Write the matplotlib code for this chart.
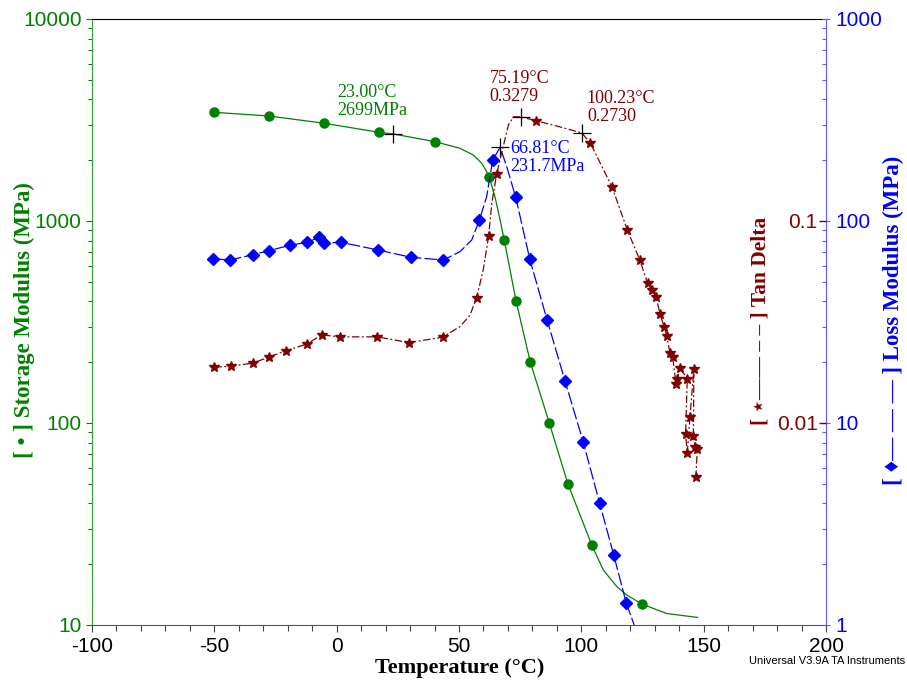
import matplotlib

matplotlib.use("Agg")
import matplotlib.pyplot as plt
from matplotlib.ticker import FixedLocator, LogLocator, NullFormatter, NullLocator

plt.rcParams["axes.unicode_minus"] = False

W, H = 907, 686

GREEN = "#008000"
MAROON = "#800000"
BLUE = "#0000ff"

# storage modulus (MPa): curve and symbol points
storage_t = [-50.0, -27.8, -5.2, 17.3, 23.0, 40.2, 50.4, 55.8, 59.3, 61.3, 62.4, 64.7,
             66.8, 68.5, 73.3, 79.1, 86.9, 94.5, 104.2, 109.0, 114.5, 118.5, 124.7,
             134.9, 147.5]
storage_v = [3451, 3311, 3048, 2748, 2699, 2470, 2290, 2123, 1932, 1754, 1645, 1318,
             1012, 805, 403, 201, 100, 50, 25, 18.7, 15.5, 14.1, 12.7,
             11.4, 10.9]
storage_mark_t = [-50.0, -27.8, -5.2, 17.3, 40.2, 62.4, 68.5, 73.3, 79.1, 86.9, 94.5, 104.2, 124.7]
storage_mark_v = [3451, 3311, 3048, 2748, 2470, 1645, 805, 403, 201, 100, 50, 25, 12.7]

# loss modulus (MPa)
loss_t = [-50.4, -43.6, -34.3, -27.8, -19.1, -12.1, -7.1, -5.2, 1.6, 16.8, 30.5, 43.6,
          50.4, 55.2, 58.3, 61.3, 63.8, 66.8, 69.5, 73.2, 78.9, 86.0, 93.3, 100.8, 107.5,
          113.2, 118.4, 121.6, 122.4]
loss_v = [65.0, 64.1, 68.1, 71.3, 75.8, 78.5, 83.0, 77.6, 78.5, 71.9, 66.1, 64.1,
          70.5, 80.5, 100.8, 131.9, 200.4, 231.7, 185.8, 131.0, 64.9, 32.4, 16.2, 8.03, 4.0,
          2.23, 1.28, 1.0, 0.93]
loss_mark_t = [-50.4, -43.6, -34.3, -27.8, -19.1, -12.1, -7.1, -5.2, 1.6, 16.8, 30.5, 43.6,
               58.3, 63.8, 73.2, 78.9, 86.0, 93.3, 100.8, 107.5, 113.2, 118.4]
loss_mark_v = [65.0, 64.1, 68.1, 71.3, 75.8, 78.5, 83.0, 77.6, 78.5, 71.9, 66.1, 64.1,
               100.8, 200.4, 131.0, 64.9, 32.4, 16.2, 8.03, 4.0, 2.23, 1.28]

# tan delta
tan_t = [-50.0, -43.3, -34.1, -27.8, -20.7, -12.2, -6.1, 1.4, 16.4, 29.7, 43.3, 50.4,
         54.5, 57.2, 59.9, 62.1, 63.4, 65.4, 70.2, 72.3, 75.2, 81.3, 90.0, 100.2, 103.7,
         112.5, 118.8, 123.9, 127.1, 128.8, 130.5, 132.2, 133.8, 134.9, 136.2, 137.3,
         138.7, 140.3, 143.3, 142.6, 143.3, 144.4, 146.0, 145.8, 146.5, 147.4, 146.8]
tan_v = [0.0189, 0.0191, 0.0198, 0.0212, 0.0228, 0.0246, 0.0273, 0.0267, 0.0267, 0.0250,
         0.0266, 0.0300, 0.0342, 0.0417, 0.0572, 0.0843, 0.122, 0.171, 0.299, 0.328,
         0.3279, 0.314, 0.295, 0.2730, 0.2426, 0.148, 0.0902, 0.0641, 0.0492, 0.0455,
         0.0422, 0.0345, 0.0300, 0.0270, 0.0223, 0.0213, 0.0156, 0.0187, 0.0166, 0.0088,
         0.0071, 0.0107, 0.0185, 0.0086, 0.0076, 0.0074, 0.0054]
tan_mark_t = [-50.0, -43.3, -34.1, -27.8, -20.7, -12.2, -6.1, 1.4, 16.4, 29.7, 43.3,
              57.2, 62.1, 65.4, 81.3, 103.7, 112.5, 118.8, 123.9, 127.1, 128.8, 130.5,
              132.2, 133.8, 134.9, 136.2, 137.3, 138.7, 140.3, 139.0, 143.3, 142.6,
              143.3, 144.4, 146.0, 145.8, 146.5, 147.4, 146.8]
tan_mark_v = [0.0189, 0.0191, 0.0198, 0.0212, 0.0228, 0.0246, 0.0273, 0.0267, 0.0267,
              0.0250, 0.0266, 0.0417, 0.0843, 0.171, 0.314, 0.2426, 0.148, 0.0902, 0.0641,
              0.0492, 0.0455, 0.0422, 0.0345, 0.0300, 0.0270, 0.0223, 0.0213, 0.0156,
              0.0187, 0.0166, 0.0166, 0.0088, 0.0071, 0.0107, 0.0185, 0.0086, 0.0076,
              0.0074, 0.0054]

SERIF = ["Liberation Serif", "DejaVu Sans"]
SANS = ["Liberation Sans", "DejaVu Sans"]


def px(x, y):
    return x / W, 1 - y / H


fig = plt.figure(figsize=(W / 100, H / 100), dpi=100)
ax = fig.add_axes([92 / W, 1 - 625 / H, 734 / W, 606 / H])
ax2 = ax.twinx()
ax3 = ax.twinx()

# storage modulus, left axis
ax.plot(storage_t, storage_v, color=GREEN, lw=0.9)
ax.plot(storage_mark_t, storage_mark_v, ls="none", marker="o", ms=6.5, color=GREEN)
ax.set_xlim(-100, 200)
ax.set_yscale("log")
ax.set_ylim(10, 10000)

# loss modulus, right axis
ax2.plot(loss_t, loss_v, color=BLUE, lw=0.9, ls=(0, (10, 2.5)))
ax2.plot(loss_mark_t, loss_mark_v, ls="none", marker="D", ms=6.5, color=BLUE)
ax2.set_yscale("log")
ax2.set_ylim(1, 1000)

# tan delta, labels just left of the right spine
ax3.plot(tan_t, tan_v, color=MAROON, lw=0.9, ls=(0, (6, 2, 1.5, 2)))
ax3.plot(tan_mark_t, tan_mark_v, ls="none", marker="*", ms=7.5, color=MAROON)
ax3.set_yscale("log")
ax3.set_ylim(0.001, 1)

# annotation crosshairs
ax.plot([23.0], [2699], marker="+", ms=13, mew=0.9, color="black")
ax2.plot([66.81], [231.7], marker="+", ms=13, mew=0.9, color="black")
ax3.plot([75.19, 100.23], [0.3279, 0.2730], ls="none", marker="+", ms=13, mew=0.9, color="black")

ann = dict(textcoords="offset pixels", fontsize=13, family=SERIF, linespacing=1.05)
ax.annotate("23.00°C\n2699MPa", (23.0, 2699), xytext=(-56, 15), color=GREEN,
            ha="left", va="bottom", **ann)
ax3.annotate("75.19°C\n0.3279", (75.19, 0.3279), xytext=(-31, 12), color=MAROON,
             ha="left", va="bottom", **ann)
ax3.annotate("100.23°C\n0.2730", (100.23, 0.2730), xytext=(5, 8), color=MAROON,
             ha="left", va="bottom", **ann)
ax2.annotate("66.81°C\n231.7MPa", (66.81, 231.7), xytext=(10, 7), color=BLUE,
             ha="left", va="top", **ann)

# spines
for a in (ax2, ax3):
    for s in a.spines.values():
        s.set_visible(False)
ax.spines["left"].set_color("#33a033")
ax.spines["right"].set_visible(False)
ax.spines["top"].set_color("black")
ax.spines["bottom"].set_color("#555555")
ax2.spines["right"].set_visible(True)
ax2.spines["right"].set_color("#5a5aff")

# x axis
ax.xaxis.set_major_locator(FixedLocator([-100, -50, 0, 50, 100, 150, 200]))
ax.xaxis.set_minor_locator(FixedLocator(range(-100, 201, 10)))
ax.tick_params(axis="x", which="both", direction="out", length=4, width=0.8,
               color="#444444", labelsize=15, pad=4)
ax.tick_params(axis="x", which="major", length=5)

# left y axis
ax.tick_params(axis="y", which="major", direction="out", length=4.5, width=0.8,
               color=GREEN, labelcolor=GREEN, labelsize=15, pad=3)
ax.tick_params(axis="y", which="minor", direction="out", length=3, width=0.8, color=GREEN)
ax.yaxis.set_minor_formatter(NullFormatter())
ax.set_yticks([10, 100, 1000, 10000], ["10", "100", "1000", "10000"])

# right loss axis
ax2.set_yticks([1, 10, 100, 1000], ["1", "10", "100", "1000"])
ax2.yaxis.set_minor_locator(LogLocator(base=10, subs=range(2, 10)))
ax2.yaxis.set_minor_formatter(NullFormatter())
ax2.tick_params(axis="y", which="major", direction="inout", length=6, width=0.8,
                color="#5a5aff", labelcolor=BLUE, labelsize=15, pad=4)
ax2.tick_params(axis="y", which="minor", direction="in", length=3, width=0.8, color="#5a5aff")

# tan delta axis drawn on the inside of the right spine
ax3.spines["left"].set_position(("axes", 1.0))
ax3.yaxis.tick_left()
ax3.set_yticks([0.01, 0.1], ["0.01", "0.1"])
ax3.yaxis.set_minor_locator(NullLocator())
ax3.tick_params(axis="y", which="major", direction="out", length=5, width=1.0,
                color=MAROON, labelcolor=MAROON, labelsize=15, pad=1)

for lab in ax.get_xticklabels() + ax.get_yticklabels() + ax2.get_yticklabels() + ax3.get_yticklabels():
    lab.set_family(SANS)

# axis titles
lab = dict(fontweight="bold", family=SERIF, ha="center", va="center")
fig.text(*px(460, 668), "Temperature (°C)", color="black", fontsize=16, **lab)
fig.text(*px(24, 320), "[ • ] Storage Modulus (MPa)", color=GREEN, rotation=90,
         fontsize=16.5, **lab)
fig.text(*px(760, 321), "[ ⋆—— – – ] Tan Delta", color=MAROON, rotation=90,
         fontsize=15.5, **lab)
fig.text(*px(893, 320), "[ ♦— — — ] Loss Modulus (MPa)", color=BLUE, rotation=90,
         fontsize=16.5, **lab)
fig.text(*px(905, 661), "Universal V3.9A TA Instruments", fontsize=8, family=SANS,
         ha="right", va="center", color="black")

fig.savefig("out.png", dpi=100)
